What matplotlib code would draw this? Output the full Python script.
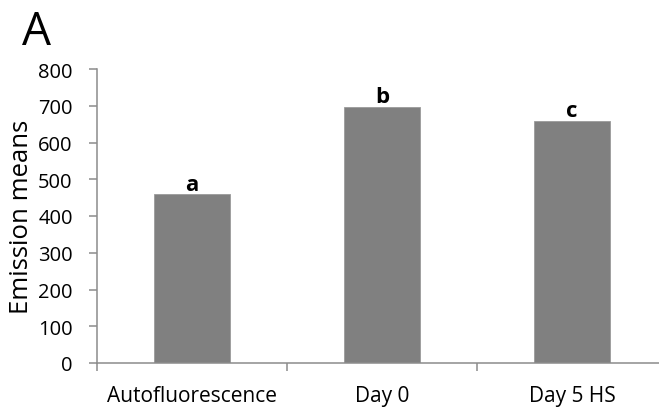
import matplotlib
matplotlib.use("Agg")
import matplotlib.pyplot as plt

categories = ["Autofluorescence", "Day 0", "Day 5 HS"]
values = [460, 697, 659]
letters = ["a", "b", "c"]
yticks = [0, 100, 200, 300, 400, 500, 600, 700, 800]

plt.rcParams['font.family'] = ['Open Sans', 'DejaVu Sans']

fig = plt.figure(figsize=(6.59, 4.10), dpi=100)
ax = fig.add_axes([97/659, 1-364/410, 570/659, (364-70)/410])
x = list(range(len(categories)))
ax.bar(x, values, width=0.395, color="#808080", edgecolor="#9a9a9a", linewidth=0.6, zorder=2)
for xi, v, l in zip(x, values, letters):
    ax.text(xi, v + 12, l, ha="center", va="baseline", fontsize=16, fontweight="bold")
ax.set_xlim(-0.5, 2.5)
ax.set_ylim(0, 800)
ax.set_yticks(yticks)
ax.set_yticklabels([str(t) for t in yticks], fontsize=14.5)
ax.set_xticks(x)
ax.set_xticklabels(categories, fontsize=15)
ax.set_xticks([-0.5, 0.5, 1.5, 2.5], minor=True)
ax.tick_params(axis="x", which="major", length=0, pad=16)
ax.tick_params(axis="x", which="minor", length=6, color="#8c8c8c", width=1.1)
ax.tick_params(axis="y", length=6, color="#8c8c8c", width=1.1, pad=11.5)
for s in ["top", "right"]:
    ax.spines[s].set_visible(False)
for s in ["left", "bottom"]:
    ax.spines[s].set_color("#8c8c8c")
    ax.spines[s].set_linewidth(1.1)
fig.text(22/659, 1-217/410, "Emission means", fontsize=18.5, rotation=90, ha="center", va="center")
fig.text(22/659, 1-45/410, "A", fontsize=33, ha="left", va="baseline")
fig.savefig("out.png", dpi=100)
